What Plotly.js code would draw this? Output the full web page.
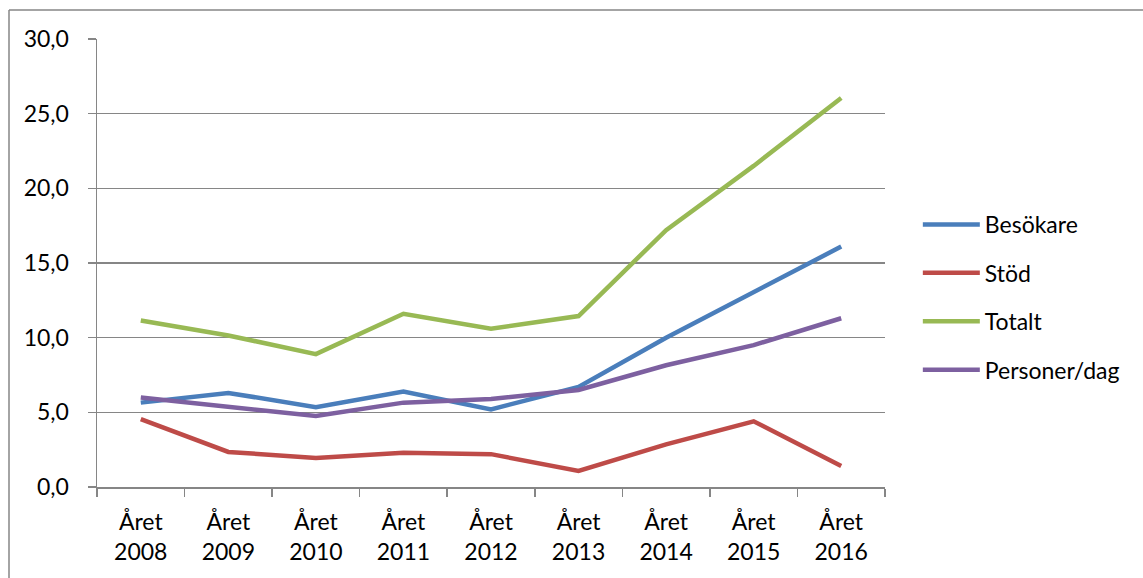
<!DOCTYPE html>
<html>
<head>
<meta charset="utf-8">
<script src="https://cdn.plot.ly/plotly-3.0.1.min.js"></script>
<style>
  html, body { margin: 0; padding: 0; background: #ffffff; }
  #chart { width: 1143px; height: 578px; }
</style>
</head>
<body>
<div id="chart"></div>
<script>
const categories = ["Året<br>2008", "Året<br>2009", "Året<br>2010", "Året<br>2011", "Året<br>2012", "Året<br>2013", "Året<br>2014", "Året<br>2015", "Året<br>2016"];
const besokare = [5.65, 6.3, 5.35, 6.4, 5.2, 6.7, 10.0, 13.05, 16.1];
const stod = [4.55, 2.35, 1.95, 2.3, 2.2, 1.07, 2.85, 4.4, 1.4];
const totalt = [11.15, 10.15, 8.9, 11.6, 10.6, 11.45, 17.2, 21.5, 26.05];
const personerDag = [6.0, 5.4, 4.75, 5.65, 5.9, 6.5, 8.15, 9.5, 11.3];
const seriesNames = ["Besökare", "Stöd", "Totalt", "Personer/dag"];
const seriesColors = ["#4A7EBB", "#BE4B48", "#98B954", "#7D60A0"];
const yTicks = [0, 5, 10, 15, 20, 25, 30];

const seriesValues = [besokare, stod, totalt, personerDag];
const traces = seriesValues.map((vals, i) => ({
  type: "scatter",
  mode: "lines",
  x: categories,
  y: vals,
  name: seriesNames[i],
  legendgroup: "g" + i,
  line: { color: seriesColors[i], width: 4.5 },
  hoverinfo: "skip"
}));

const FONT = "Lato, 'Open Sans', sans-serif";

const layout = {
  width: 1143,
  height: 578,
  margin: { l: 97, r: 258, t: 39, b: 91, pad: 0 },
  paper_bgcolor: "#ffffff",
  plot_bgcolor: "#ffffff",
  separators: ", ",
  font: { family: FONT, size: 23, color: "#000000" },
  showlegend: true,
  legend: {
    xref: "container",
    x: 0.803,
    xanchor: "left",
    y: 0.423,
    yanchor: "middle",
    font: { family: FONT, size: 23, color: "#000000" },
    itemwidth: 57,
    tracegroupgap: 15.5,
    bgcolor: "rgba(0,0,0,0)",
    borderwidth: 0
  },
  xaxis: {
    type: "category",
    range: [-0.5, categories.length - 0.5],
    tickson: "boundaries",
    ticks: "outside",
    ticklen: 8,
    tickwidth: 1.5,
    tickcolor: "#868686",
    showline: true,
    linecolor: "#868686",
    linewidth: 1.5,
    showgrid: false,
    zeroline: false,
    ticklabelstandoff: 14,
    tickfont: { family: FONT, size: 23, color: "#000000" },
    fixedrange: true
  },
  yaxis: {
    range: [0, 30],
    tickvals: yTicks,
    tickformat: ".1f",
    ticks: "outside",
    ticklen: 8,
    tickwidth: 1.5,
    tickcolor: "#868686",
    showline: true,
    linecolor: "#868686",
    linewidth: 1.5,
    showgrid: true,
    gridcolor: "#868686",
    gridwidth: 1.5,
    zeroline: false,
    ticklabelstandoff: 14,
    tickfont: { family: FONT, size: 23, color: "#000000" },
    fixedrange: true
  },
  shapes: [
    { type: "line", xref: "paper", yref: "paper", x0: -88 / 788, x1: 1.4, y0: (487 - 10) / 448, y1: (487 - 10) / 448, line: { color: "#868686", width: 1.5 } },
    { type: "line", xref: "paper", yref: "paper", x0: -88 / 788, x1: -88 / 788, y0: -0.5, y1: (487 - 10) / 448, line: { color: "#868686", width: 1.5 } }
  ]
};

Plotly.newPlot("chart", traces, layout, { displayModeBar: false, staticPlot: true });
</script>
</body>
</html>
